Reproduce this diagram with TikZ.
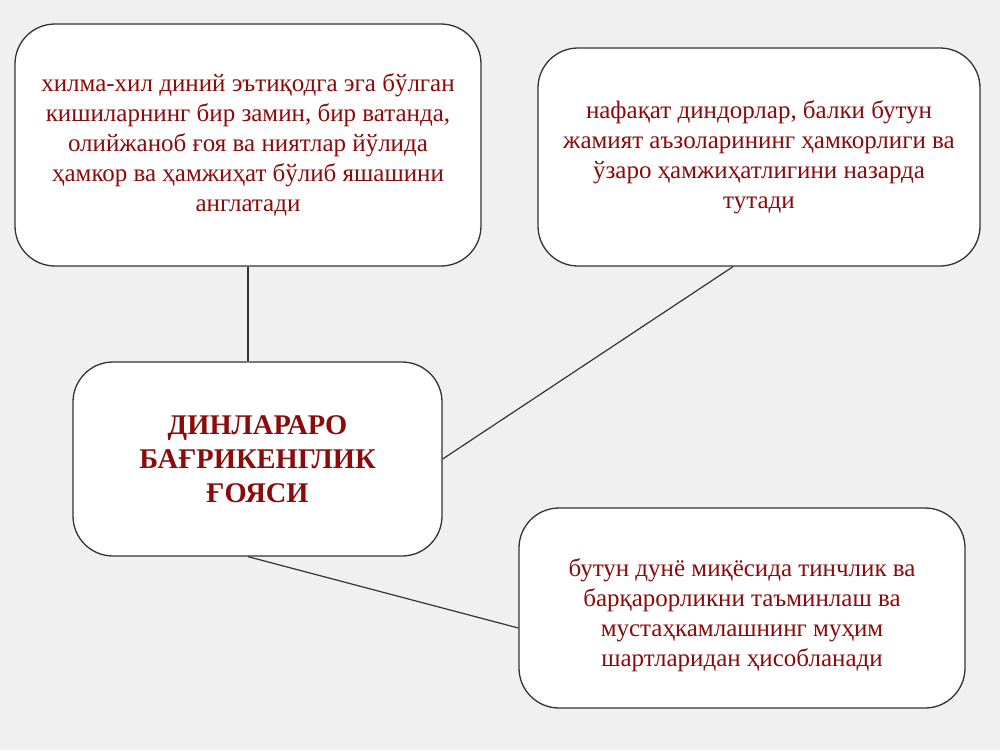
\documentclass[tikz,border=0pt]{standalone}
\usepackage{fontspec}
\setmainfont{Liberation Serif}
\usetikzlibrary{calc}
\definecolor{bg}{HTML}{F0F0F0}
\definecolor{txt}{HTML}{8B0A0A}
\definecolor{edge}{HTML}{333333}
\tikzset{
  card/.style={draw=edge, line width=1.3pt, fill=white, rounded corners=40pt,
    align=center, text=txt, font=\fontsize{25}{30}\selectfont, inner sep=0pt},
  cardtext/.style={align=center, text=txt, font=\fontsize{25}{30}\selectfont, inner sep=0pt},
  link/.style={draw=edge, line width=1.2pt}
}
\begin{document}
\begin{tikzpicture}[x=1pt,y=-1pt]
\fill[bg] (0,0) rectangle (1000,750);
\useasboundingbox (0,0) rectangle (1000,750);
\node[card, minimum width=466pt, minimum height=242pt] (A) at (248,145)
 {хилма-хил диний эътиқодга эга бўлган\\кишиларнинг бир замин, бир ватанда,\\олийжаноб ғоя ва ниятлар йўлида\\ҳамкор ва ҳамжиҳат бўлиб яшашини\\англатади};
\node[card, minimum width=442pt, minimum height=218pt] (B) at (759,157)
 {нафақат диндорлар, балки бутун\\жамият аъзоларининг ҳамкорлиги ва\\ўзаро ҳамжиҳатлигини назарда\\тутади};
\node[card, minimum width=369pt, minimum height=194pt, font=\bfseries\fontsize{28.5}{34}\selectfont] (C) at (257.5,459)
 {ДИНЛАРАРО\\БАҒРИКЕНГЛИК\\ҒОЯСИ};
\node[card, minimum width=446pt, minimum height=200pt] (D) at (742,608) {};
\node[cardtext] (Dt) at (742,615)
 {бутун дунё миқёсида тинчлик ва\\барқарорликни таъминлаш ва\\мустаҳкамлашнинг муҳим\\шартларидан ҳисобланади};
\draw[link] (A.south) -- (A.south |- C.north);
\draw[link] ([xshift=-26pt]B.south) -- (C.east);
\draw[link] ([xshift=-9.5pt]C.south) -- ([yshift=-20pt]D.west);
\end{tikzpicture}
\end{document}
